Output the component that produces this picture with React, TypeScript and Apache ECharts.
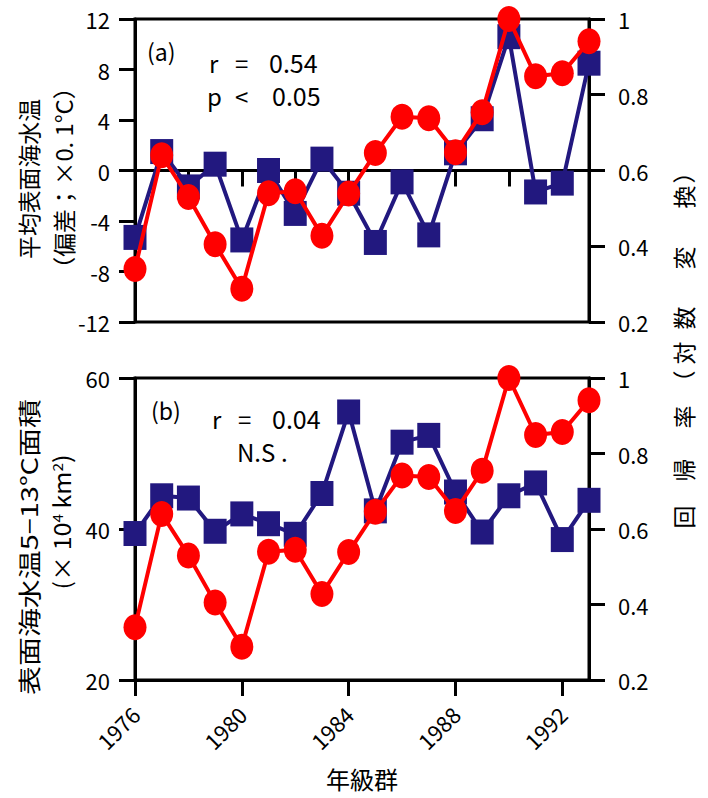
import React, { useEffect, useRef } from "react";
import * as echarts from "echarts";

const years = ["1976","1977","1978","1979","1980","1981","1982","1983","1984","1985","1986","1987","1988","1989","1990","1991","1992","1993"];
const sstAnomaly = [-5.3, 1.5, -1.3, 0.5, -5.5, 0.0, -3.4, 0.9, -1.8, -5.7, -0.9, -5.1, 1.4, 4.1, 10.6, -1.7, -1.0, 8.5];
const sstArea = [39.4, 44.4, 44.1, 39.7, 42.0, 40.7, 39.3, 44.7, 55.5, 42.4, 51.5, 52.4, 44.9, 39.6, 44.4, 46.1, 38.6, 43.8];
const regressionRate = [0.34, 0.64, 0.53, 0.405, 0.288, 0.54, 0.545, 0.428, 0.539, 0.646, 0.742, 0.738, 0.648, 0.754, 1.0, 0.849, 0.857, 0.941];
const labelYears = ["1976", "1980", "1984", "1988", "1992"];

const FONT_NAME = "Noto Sans CJK JP";
const FONT = "'Noto Sans CJK JP', 'Noto Sans', sans-serif";
const BLUE = "#22187f";
const RED = "#ff0000";

function measure(text: string, size: number): number {
  const ctx = document.createElement("canvas").getContext("2d");
  if (!ctx) return text.length * size;
  ctx.font = `${size}px '${FONT_NAME}'`;
  return ctx.measureText(text).width;
}

export default function App() {
  const ref = useRef<HTMLDivElement>(null);
  useEffect(() => {
    if (!ref.current) return;
    const chart = echarts.init(ref.current, null, { renderer: "svg" });
    const axisLine = { show: true, lineStyle: { color: "#000", width: 3 } };
    const tick = (len: number) => ({ show: true, length: len, lineStyle: { color: "#000", width: 3 } });
    const lbl = (m: number) => ({ color: "#000", fontSize: 22, fontFamily: FONT, margin: m });
    const xBase = (gridIndex: number) => ({
      type: "category" as const,
      gridIndex,
      data: years,
      boundaryGap: false,
      splitLine: { show: false },
    });

    const TS = 23;
    const rotText = (text: string, x: number, y: number, target: number, extra: any = {}, width?: number) => {
      const w = width ?? measure(text, TS);
      return {
        type: "text", x, y, rotation: Math.PI / 2, scaleX: target / w, scaleY: 1,
        style: { text, fontSize: TS, fontFamily: FONT, fill: "#000", align: "center", verticalAlign: "middle", ...extra },
      };
    };
    const supW = measure("(× 10", TS) + measure("4", 14) + measure(" km", TS) + measure("2", 14) + measure(")", TS);

    const rightTitle = [
      ["回", 517], ["帰", 470], ["率", 417], ["（", 382], ["対", 353], ["数", 318], ["変", 258], ["換", 197], ["）", 172],
    ] as [string, number][];

    const ann = (text: string, x: number, y: number, size = 23) => ({
      type: "text", x, y,
      style: { text, fontSize: size, fontFamily: FONT, fill: "#000", align: "left", verticalAlign: "middle" },
    });

    const option: any = {
      animation: false,
      grid: [
        { left: 135, right: 119, top: 19, height: 303, show: true, borderColor: "#000", borderWidth: 3, backgroundColor: "transparent" },
        { left: 135, right: 119, top: 378, height: 302, show: true, borderColor: "#000", borderWidth: 3, backgroundColor: "transparent" },
      ],
      xAxis: [
        {
          ...xBase(0),
          axisLine: { ...axisLine, onZero: true, onZeroAxisIndex: 0 },
          axisTick: tick(16),
          axisLabel: { show: false },
        },
        {
          ...xBase(1),
          axisLine,
          axisTick: tick(16),
          axisLabel: {
            ...lbl(30),
            rotate: 45,
            interval: (i: number, v: string) => labelYears.includes(v),
          },
          name: "年級群",
          nameLocation: "middle",
          nameGap: 86,
          nameTextStyle: { color: "#000", fontSize: 24, fontFamily: FONT },
        },
      ],
      yAxis: [
        { type: "value", gridIndex: 0, min: -12, max: 12, interval: 4, axisLine: { ...axisLine, onZero: false }, axisTick: tick(16), axisLabel: lbl(25), splitLine: { show: false } },
        { type: "value", gridIndex: 0, position: "right", min: 0.2, max: 1, interval: 0.2, axisLine: { ...axisLine, onZero: false }, axisTick: tick(16), axisLabel: lbl(29), splitLine: { show: false } },
        { type: "value", gridIndex: 1, min: 20, max: 60, interval: 20, axisLine: { ...axisLine, onZero: false }, axisTick: tick(16), axisLabel: lbl(25), splitLine: { show: false } },
        { type: "value", gridIndex: 1, position: "right", min: 0.2, max: 1, interval: 0.2, axisLine: { ...axisLine, onZero: false }, axisTick: tick(16), axisLabel: lbl(29), splitLine: { show: false } },
      ],
      series: [
        {
          type: "line", xAxisIndex: 0, yAxisIndex: 0, data: sstAnomaly, showAllSymbol: true,
          symbol: "rect", symbolSize: [23, 25], lineStyle: { color: BLUE, width: 4 }, itemStyle: { color: BLUE }, z: 3,
        },
        {
          type: "line", xAxisIndex: 0, yAxisIndex: 1, data: regressionRate, showAllSymbol: true,
          symbol: "circle", symbolSize: [23, 26], lineStyle: { color: RED, width: 4 }, itemStyle: { color: RED }, z: 4,
        },
        {
          type: "line", xAxisIndex: 1, yAxisIndex: 2, data: sstArea, showAllSymbol: true,
          symbol: "rect", symbolSize: [23, 25], lineStyle: { color: BLUE, width: 4 }, itemStyle: { color: BLUE }, z: 3,
        },
        {
          type: "line", xAxisIndex: 1, yAxisIndex: 3, data: regressionRate, showAllSymbol: true,
          symbol: "circle", symbolSize: [23, 26], lineStyle: { color: RED, width: 4 }, itemStyle: { color: RED }, z: 4,
        },
      ],
      graphic: [
        ann("(a)", 147, 51),
        ann("r", 209, 62, 24), ann("=", 235, 62, 24), ann("0.54", 269, 62, 25),
        ann("p", 207, 95, 24), ann("<", 235, 95, 24), ann("0.05", 272, 95, 25),
        ann("(b)", 151, 410),
        ann("r", 212, 418, 24), ann("=", 238, 418, 24), ann("0.04", 272, 418, 25),
        ann("N.S", 237, 451, 24), ann(".", 281, 451, 24),
        rotText("平均表面海水温", 28, 179, 160),
        rotText("（偏差；×0. 1°C）", 63, 178, 205),
        rotText("表面海水温5−13°C面積", 28, 547, 296),
        rotText("(× 10{s|4} km{s|2})", 61, 522, 135, {
          rich: { s: { fontSize: 14, fontFamily: FONT, fill: "#000", verticalAlign: "top" } },
        }, supW),
        ...rightTitle.map(([ch, y]) => ({
          type: "text", x: 683, y, rotation: Math.PI / 2,
          style: { text: ch, fontSize: 23, fontFamily: FONT, fill: "#000", align: "center", verticalAlign: "middle" },
        })),
      ],
    };
    chart.setOption(option);
    return () => chart.dispose();
  }, []);
  return <div ref={ref} style={{ width: 708, height: 798, position: "absolute", left: 0, top: 0 }} />;
}
